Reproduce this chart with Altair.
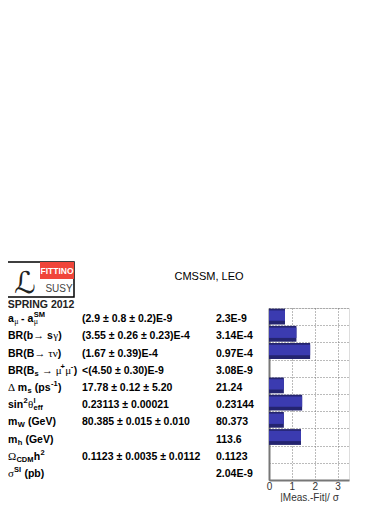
import altair as alt
import pandas as pd

# ---------------- data ----------------
rows = list(range(10))
# label parts: (kind, text); n=bold text, g=symbol (greek/arrow), sub/sup=small bold,
# gsub=small symbol subscript, gsubsup="greek sub|sup"
label_parts = [
    [("n", "a"), ("gsub", "μ"), ("n", " - a"), ("gsubsup", "μ|SM")],
    [("n", "BR(b"), ("g", "→"), ("n", " s"), ("g", "γ"), ("n", ")")],
    [("n", "BR(B"), ("g", "→ τν"), ("n", ")")],
    [("n", "BR(B"), ("sub", "s"), ("g", " → μ"), ("sup", "+"), ("g", "μ"), ("sup", "-"), ("n", ")")],
    [("g", "Δ"), ("n", " m"), ("sub", "s"), ("n", " (ps"), ("sup", "-1"), ("n", ")")],
    [("n", "sin"), ("sup", "2"), ("g", "θ"), ("subsup", "eff|l")],
    [("n", "m"), ("sub", "W"), ("n", " (GeV)")],
    [("n", "m"), ("sub", "h"), ("n", " (GeV)")],
    [("g", "Ω"), ("sub", "CDM"), ("n", "h"), ("sup", "2")],
    [("g", "σ"), ("sup", "SI"), ("n", " (pb)")],
]
measurements = [
    "(2.9 ± 0.8 ± 0.2)E-9",
    "(3.55 ± 0.26 ± 0.23)E-4",
    "(1.67 ± 0.39)E-4",
    "<(4.50 ± 0.30)E-9",
    "17.78 ± 0.12 ± 5.20",
    "0.23113 ± 0.00021",
    "80.385 ± 0.015 ± 0.010",
    "",
    "0.1123 ± 0.0035 ± 0.0112",
    "",
]
fit_values = ["2.3E-9", "3.14E-4", "0.97E-4", "3.08E-9", "21.24",
              "0.23144", "80.373", "113.6", "0.1123", "2.04E-9"]
pulls = [0.7, 1.2, 1.8, 0.0, 0.65, 1.45, 0.65, 1.4, 0.0, 0.0]
x_ticks = [0, 1, 2, 3]
title_text = "CMSSM, LEO"
axis_title = "|Meas.-Fit|/ σ"

# ---------------- layout helpers ----------------
FONT = "Liberation Sans, Arial, Helvetica, sans-serif"
SFONT = "Liberation Serif, Times New Roman, serif"
FS = 10.5
FS_SMALL = 7.5
FS_VAL = 10.5
NB = "\u00a0"
WB = {" ": .278, NB: .278, "(": .333, ")": .333, "+": .584, "-": .333, ".": .278,
      "B": .722, "R": .722, "G": .778, "V": .667, "W": .944, "C": .722, "D": .722,
      "M": .833, "S": .667, "I": .278,
      "a": .556, "b": .611, "e": .556, "f": .333, "h": .611, "i": .278, "l": .278,
      "m": .889, "n": .611, "p": .611, "s": .556}
for d in "0123456789":
    WB[d] = .556
WS = {" ": .25, NB: .25, "→": 1.0, "μ": .5, "γ": .45, "τ": .44, "ν": .5, "θ": .5,
      "Δ": .63, "Ω": .77, "σ": .55}


def tw(s, size, table):
    return sum(table.get(c, 0.6) for c in s) * size


X_LABEL, X_MEAS, X_FIT = -261, -187, -53
GAP = 0.3
STYLE = {  # kind -> (layer, size, width table)
    "n": ("n", FS, WB), "g": ("g", FS, WS),
    "sub": ("sub", FS_SMALL, WB), "sup": ("sup", FS_SMALL, WB),
    "gsub": ("gsub", FS_SMALL, WS),
}

segs = []
for r, parts in zip(rows, label_parts):
    x = X_LABEL
    for kind, txt in parts:
        if kind in STYLE:
            layer, size, table = STYLE[kind]
            lead = len(txt) - len(txt.lstrip(" "))
            x += lead * WB[" "] * size  # leading spaces are trimmed by the renderer
            body = txt.lstrip(" ").replace(" ", NB)
            segs.append({"yc": r + 0.5, "px": x, "t": body, "k": layer})
            x += tw(body, size, table) + GAP
        else:
            sb, sp = txt.split("|")
            sub_kind = "gsub" if kind == "gsubsup" else "sub"
            segs.append({"yc": r + 0.5, "px": x, "t": sb, "k": sub_kind})
            segs.append({"yc": r + 0.5, "px": x, "t": sp, "k": "sup"})
            x += max(tw(sb, FS_SMALL, STYLE[sub_kind][2]), tw(sp, FS_SMALL, WB)) + GAP
seg_df = pd.DataFrame(segs)

tab = pd.DataFrame({
    "y0": [r + 0.04 for r in rows],
    "y1": [r + 0.96 for r in rows],
    "yi0": [r + 0.14 for r in rows],
    "yi1": [r + 0.74 for r in rows],
    "yc": [r + 0.5 for r in rows],
    "pull": pulls,
    "zero": [0.0] * 10,
    "meas": measurements,
    "fit": fit_values,
})

yscale = alt.Scale(domain=[0, 10], reverse=True, nice=False, zero=False)
yaxis = alt.Axis(values=list(range(11)), labels=False, ticks=False, title=None,
                 grid=True, gridDash=[1, 2], gridColor="#777", gridOpacity=1,
                 domainColor="#777", domainWidth=2)
xscale = alt.Scale(domain=[0, 3.5], nice=False, zero=True)
xaxis = alt.Axis(values=x_ticks, title=axis_title, grid=True, gridDash=[1, 2],
                 gridColor="#777", gridOpacity=1, ticks=False, labelFont=FONT,
                 labelFontSize=10, labelColor="#333", labelPadding=1,
                 titleFont=FONT, titleFontSize=10, titleFontWeight="normal",
                 titleColor="#333", titlePadding=1, domainColor="#777",
                 domainWidth=2, labelFlush=False)

base = alt.Chart(tab)
bars_outer = base.mark_bar(color="#24246f").encode(
    x=alt.X("zero:Q", scale=xscale, axis=xaxis),
    x2="pull:Q",
    y=alt.Y("y0:Q", scale=yscale, axis=yaxis),
    y2="y1:Q",
)
bars_inner = base.mark_bar(color="#3b3bb0").encode(
    x=alt.X("zero:Q", scale=xscale, axis=xaxis),
    x2="pull:Q",
    y=alt.Y("yi0:Q", scale=yscale, axis=yaxis),
    y2="yi1:Q",
)


def text_layer(df, field, xfield=None, xval=None, size=FS, dy=2.5, font=FONT, weight="bold"):
    ch = alt.Chart(df).mark_text(font=font, fontSize=size, fontWeight=weight,
                                 align="left", baseline="middle", dy=dy,
                                 color="black")
    enc = dict(y=alt.Y("yc:Q", scale=yscale, axis=yaxis), text=f"{field}:N")
    if xfield:
        enc["x"] = alt.X(f"{xfield}:Q", scale=None, axis=None)
    else:
        enc["x"] = alt.value(xval)
    return ch.encode(**enc)


lab_n = text_layer(seg_df[seg_df.k == "n"], "t", xfield="px")
lab_g = text_layer(seg_df[seg_df.k == "g"], "t", xfield="px", size=FS + 0.5,
                   font=SFONT, weight="normal")
lab_sub = text_layer(seg_df[seg_df.k == "sub"], "t", xfield="px", size=FS_SMALL, dy=5.5)
lab_gsub = text_layer(seg_df[seg_df.k == "gsub"], "t", xfield="px", size=FS_SMALL + 0.5,
                      dy=5.5, font=SFONT, weight="normal")
lab_sup = text_layer(seg_df[seg_df.k == "sup"], "t", xfield="px", size=FS_SMALL, dy=-1.5)
meas_t = text_layer(tab, "meas", xval=X_MEAS, size=FS_VAL)
fit_t = text_layer(tab, "fit", xval=X_FIT, size=FS_VAL)

one = pd.DataFrame({"a": [0]})
title_m = alt.Chart(one).mark_text(font=FONT, fontSize=11, align="center",
                                   baseline="middle", text=title_text).encode(
    x=alt.value(-60), y=alt.value(-31))

# logo
logo_box = alt.Chart(one).mark_rect(fill="white", stroke="black", strokeWidth=1.5).encode(
    x=alt.value(-262), x2=alt.value(-195), y=alt.value(-46), y2=alt.value(-11))
logo_red = alt.Chart(one).mark_rect(fill="#f0453a").encode(
    x=alt.value(-229), x2=alt.value(-195), y=alt.value(-46), y2=alt.value(-29))
logo_fit = alt.Chart(one).mark_text(font=FONT, fontSize=8.5, fontWeight="bold", color="white",
                                    align="center", baseline="middle", text="FITTINO").encode(
    x=alt.value(-212), y=alt.value(-37))
logo_susy = alt.Chart(one).mark_text(font=FONT, fontSize=10, color="#444",
                                     align="center", baseline="middle", text="SUSY").encode(
    x=alt.value(-210), y=alt.value(-19))
logo_L = alt.Chart(one).mark_text(font="DejaVu Sans, sans-serif", fontSize=30,
                                  color="#222", align="center", baseline="alphabetic",
                                  text="ℒ").encode(
    x=alt.value(-244), y=alt.value(-15))
logo_spring = alt.Chart(one).mark_text(font=FONT, fontSize=10.5, fontWeight="bold",
                                       color="#222", align="center", baseline="middle",
                                       text="SPRING 2012").encode(
    x=alt.value(-228), y=alt.value(-3))

chart = alt.layer(
    bars_outer, bars_inner, lab_n, lab_g, lab_sub, lab_gsub, lab_sup, meas_t, fit_t,
    title_m, logo_box, logo_red, logo_fit, logo_susy, logo_L, logo_spring,
).properties(
    width=80, height=172,
    autosize=alt.AutoSizeParams(type="none"),
    padding={"left": 261, "top": 300, "right": 33, "bottom": 22},
).configure_view(stroke="#999", strokeWidth=1).configure(background="white")

chart.save("out.html", embed_options={"renderer": "svg", "actions": False})
